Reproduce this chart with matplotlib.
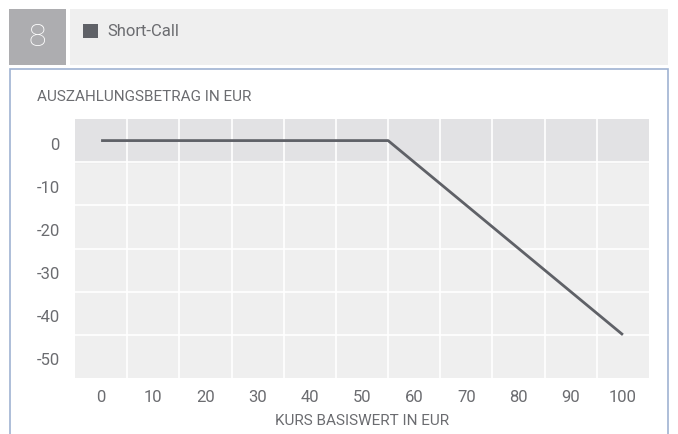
import matplotlib
matplotlib.use('Agg')
import matplotlib.pyplot as plt
from matplotlib.patches import Rectangle
from matplotlib.ticker import FixedLocator
from matplotlib.transforms import ScaledTranslation

matplotlib.rcParams['font.family'] = ['Roboto', 'DejaVu Sans']

# data
kurs = [0, 55, 100]
auszahlung = [0, 0, -45]
x_ticks = [0, 10, 20, 30, 40, 50, 60, 70, 80, 90, 100]
y_ticks = [0, -10, -20, -30, -40, -50]
series_name = 'Short-Call'
chart_no = '8'

W, H = 678, 434
text_col = '#6b6c70'
line_col = '#5f6167'

fig = plt.figure(figsize=(W / 100, H / 100), dpi=100)
fig.patch.set_facecolor('white')

def px(x0, y0, x1, y1):
    # pixel box (top-left origin) -> figure fraction
    return (x0 / W, 1 - y1 / H, (x1 - x0) / W, (y1 - y0) / H)

# header
fig.patches.append(Rectangle((9 / W, 1 - 65 / H), 57 / W, 56 / H, transform=fig.transFigure,
                             facecolor='#adadb0', edgecolor='none'))
fig.patches.append(Rectangle((70 / W, 1 - 65 / H), 598 / W, 56 / H, transform=fig.transFigure,
                             facecolor='#efefef', edgecolor='none'))
fig.text(37.5 / W, 1 - 37 / H, chart_no, color='white', fontsize=23, ha='center', va='center',
         fontweight='light')
fig.patches.append(Rectangle((83 / W, 1 - 38 / H), 15 / W, 14 / H, transform=fig.transFigure,
                             facecolor=line_col, edgecolor='none'))
fig.text(107 / W, 1 - 31 / H, series_name, color=text_col, fontsize=12, ha='left', va='center')

# outer frame
fig.patches.append(Rectangle((10 / W, -0.01), 657.5 / W, (1 - 69.5 / H) + 0.01, transform=fig.transFigure,
                             facecolor='none', edgecolor='#9fb3d2', linewidth=1.2))

ax = fig.add_axes(px(75, 119, 649, 378))
ax.set_xlim(-5, 105)
ax.set_ylim(-55, 5)
ax.set_facecolor('#efefef')
ax.axhspan(-5, 5, color='#e2e2e4', zorder=0)
for s in ax.spines.values():
    s.set_visible(False)

ax.xaxis.set_minor_locator(FixedLocator([t + 5 for t in x_ticks[:-1]]))
ax.yaxis.set_minor_locator(FixedLocator([t - 5 for t in y_ticks[:-1]]))
ax.set_xticks(x_ticks)
ax.set_yticks(y_ticks)
ax.set_xticklabels([str(t) for t in x_ticks])
ax.set_yticklabels([str(t) for t in y_ticks])
ax.grid(which='minor', color='white', linewidth=1.2)
ax.grid(which='major', visible=False)
ax.tick_params(which='both', length=0, colors=text_col, labelsize=12)
ax.tick_params(axis='x', pad=9)
ax.tick_params(axis='y', pad=11)
ax.set_axisbelow(True)

# y labels sit a little below the band centres in the original
shift = ScaledTranslation(0, -3 / 100, fig.dpi_scale_trans)
for lbl in ax.get_yticklabels():
    lbl.set_transform(lbl.get_transform() + shift)

ax.plot(kurs, auszahlung, color=line_col, linewidth=2.0, solid_capstyle='butt', zorder=3)

ax.set_xlabel('KURS BASISWERT IN EUR', color=text_col, fontsize=11, labelpad=6)
fig.text(37 / W, 1 - 97 / H, 'AUSZAHLUNGSBETRAG IN EUR', color=text_col, fontsize=11,
         ha='left', va='center')

fig.savefig('out.png', dpi=100)
